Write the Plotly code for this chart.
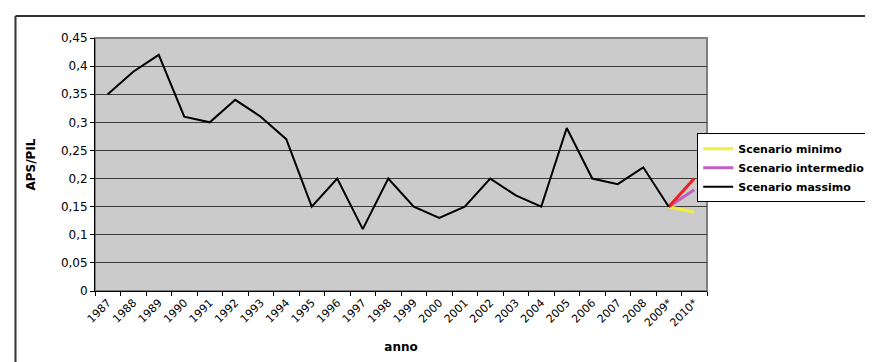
import plotly.graph_objects as go

years = ["1987", "1988", "1989", "1990", "1991", "1992", "1993", "1994", "1995", "1996",
         "1997", "1998", "1999", "2000", "2001", "2002", "2003", "2004", "2005", "2006",
         "2007", "2008", "2009*", "2010*"]
massimo = [0.35, 0.39, 0.42, 0.31, 0.30, 0.34, 0.31, 0.27, 0.15, 0.20,
           0.11, 0.20, 0.15, 0.13, 0.15, 0.20, 0.17, 0.15, 0.29, 0.20,
           0.19, 0.22, 0.15, None]
minimo = [None] * 22 + [0.15, 0.14]
intermedio = [None] * 22 + [0.15, 0.18]
rosso = [None] * 22 + [0.15, 0.20]

FONT = "DejaVu Sans, Verdana, sans-serif"

fig = go.Figure()
fig.add_trace(go.Scatter(x=years, y=minimo, mode="lines", name="Scenario minimo",
                         line=dict(color="#F2EE3C", width=3)))
fig.add_trace(go.Scatter(x=years, y=intermedio, mode="lines", name="Scenario intermedio",
                         line=dict(color="#C060C0", width=3)))
fig.add_trace(go.Scatter(x=years, y=rosso, mode="lines", name="rosso", showlegend=False,
                         line=dict(color="#F02020", width=3)))
fig.add_trace(go.Scatter(x=years, y=massimo, mode="lines", name="Scenario massimo",
                         line=dict(color="#000000", width=2)))

fig.update_layout(
    width=873, height=362,
    margin=dict(l=87, r=174, t=30, b=79, autoexpand=False),
    paper_bgcolor="white",
    plot_bgcolor="#CBCBCB",
    separators=",.",
    font=dict(family=FONT, size=12, color="black"),
    showlegend=True,
    legend=dict(x=0.984, xanchor="left", y=0.624, yanchor="top",
                bgcolor="white", bordercolor="black", borderwidth=1,
                font=dict(family=FONT, size=11, color="black", weight="bold"),
                tracegroupgap=0, itemwidth=30, entrywidth=150),
    xaxis=dict(
        type="category", range=[-0.5, 23.5], automargin=False,
        showline=True, linecolor="black", linewidth=1,
        ticks="outside", ticklen=4, tickcolor="black", tickson="boundaries",
        tickangle=-45, showgrid=False, zeroline=False,
        tickfont=dict(family=FONT, size=11),
        title=dict(text="<b>anno</b>", font=dict(family=FONT, size=12), standoff=14),
    ),
    yaxis=dict(
        range=[0, 0.45], dtick=0.05, tick0=0, automargin=False,
        showline=True, linecolor="black", linewidth=1,
        ticks="outside", ticklen=4, tickcolor="black",
        showgrid=True, gridcolor="#3A3A3A", gridwidth=1, zeroline=False,
        tickfont=dict(family=FONT, size=12),
        title=dict(text="<b>APS/PIL</b>", font=dict(family=FONT, size=12), standoff=22),
    ),
    shapes=[
        dict(type="rect", xref="x domain", yref="y domain", x0=0, x1=1, y0=0, y1=1,
             line=dict(color="#808080", width=2), layer="below"),
        dict(type="line", xref="paper", yref="paper", x0=-0.1299, x1=-0.1299, y0=-0.4, y1=1.087,
             line=dict(color="#333333", width=2)),
        dict(type="line", xref="paper", yref="paper", x0=-0.1299, x1=1.4, y0=1.087, y1=1.087,
             line=dict(color="#333333", width=2)),
    ],
)

fig.write_html("out.html")
